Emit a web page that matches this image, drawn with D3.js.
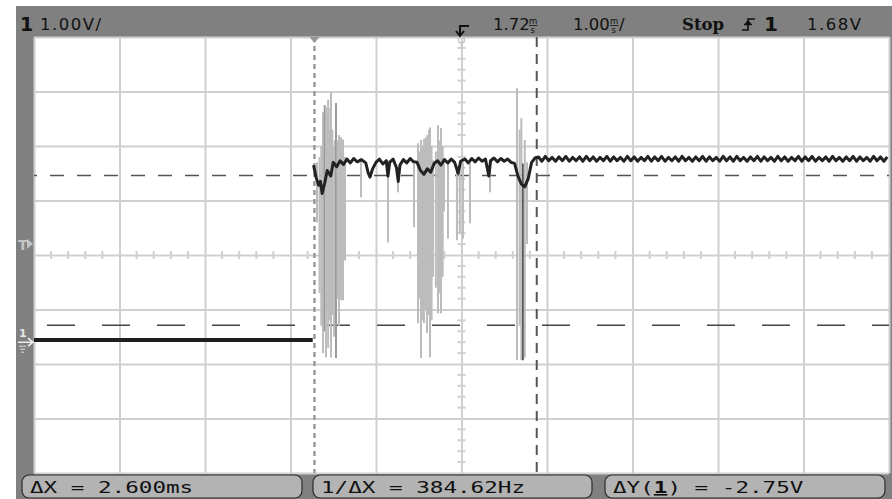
<!DOCTYPE html>
<html>
<head>
<meta charset="utf-8">
<script src="https://cdn.jsdelivr.net/npm/d3@7"></script>
<style>
  body { margin: 0; background: #fff; }
  svg { display: block; }
</style>
</head>
<body>
<svg id="scope" width="892" height="499"></svg>
<script>
// ---- data ----
// time in ms, voltage in V (channel 1, 1.00 V/div, 1.00 ms/div, delay 1.72 ms)
const timeDomain = [-3.28, 6.72];
const voltDomain = [-2.4, 5.6];

// main (bright) trace, glitchy part
const traceT = [-3.28, -0.02, -0.01, 0.02, 0.05, 0.07, 0.09, 0.12, 0.15, 0.19, 0.22, 0.26, 0.30, 0.34, 0.38, 0.42, 0.46, 0.50,
  0.55, 0.60, 0.63, 0.65, 0.68, 0.72, 0.76, 0.80, 0.84, 0.86, 0.88, 0.92, 0.96, 0.98, 1.00, 1.04, 1.08, 1.12,
  1.16, 1.20, 1.24, 1.28, 1.32, 1.36, 1.40, 1.44, 1.48, 1.52, 1.56, 1.60, 1.64, 1.68, 1.71, 1.76, 1.80, 1.84,
  1.88, 1.92, 1.96, 2.00, 2.04, 2.06, 2.10, 2.14, 2.18, 2.22, 2.26, 2.30, 2.34, 2.38, 2.42, 2.46, 2.50, 2.54, 2.58];
const traceV = [0.04, 0.04, 3.25, 3.02, 2.88, 2.95, 2.73, 2.92, 3.15, 3.05, 3.30, 3.22, 3.33, 3.26, 3.36, 3.29, 3.37, 3.31,
  3.35, 3.29, 3.10, 3.03, 3.18, 3.30, 3.36, 3.27, 3.33, 3.05, 3.30, 3.36, 3.20, 2.95, 3.25, 3.35, 3.29, 3.37,
  3.31, 3.30, 3.15, 3.08, 3.18, 3.12, 3.28, 3.33, 3.25, 3.35, 3.29, 3.36, 3.30, 3.10, 3.32, 3.36, 3.29, 3.37,
  3.31, 3.38, 3.32, 3.36, 3.05, 3.33, 3.38, 3.31, 3.37, 3.32, 3.36, 3.30, 3.28, 3.05, 2.90, 2.85, 3.00, 3.30, 3.38];

// settled part of the trace, sampled every 0.04 ms from 2.62 ms
const settledStart = 2.62;
const settledStep = 0.04;
const settledV = [
  3.40, 3.32, 3.41, 3.33, 3.39, 3.32, 3.40, 3.33, 3.41, 3.32,
  3.39, 3.33, 3.40, 3.32, 3.41, 3.33, 3.40, 3.32, 3.39, 3.33,
  3.41, 3.32, 3.40, 3.33, 3.39, 3.32, 3.41, 3.33, 3.40, 3.32,
  3.39, 3.33, 3.41, 3.32, 3.40, 3.33, 3.41, 3.32, 3.39, 3.33,
  3.40, 3.32, 3.41, 3.33, 3.39, 3.32, 3.40, 3.33, 3.41, 3.32,
  3.40, 3.33, 3.39, 3.32, 3.41, 3.33, 3.40, 3.32, 3.41, 3.33,
  3.39, 3.32, 3.40, 3.33, 3.41, 3.32, 3.40, 3.33, 3.39, 3.32,
  3.41, 3.33, 3.40, 3.32, 3.39, 3.33, 3.41, 3.32, 3.40, 3.33,
  3.41, 3.32, 3.39, 3.33, 3.40, 3.32, 3.41, 3.33, 3.39, 3.32,
  3.40, 3.33, 3.41, 3.32, 3.40, 3.33, 3.39, 3.32, 3.41, 3.33,
  3.40, 3.32, 3.40];

// persistence glitches: [time ms, low V, high V, shade]
const glitches = [
  [0.03, 2.2, 3.3, 'l'], [0.06, 0.9, 3.4, 'l'], [0.08, 0.3, 3.6, 'l'], [0.10, -0.20, 4.22, 'l'],
  [0.11, 0.6, 4.1, 'l'], [0.12, 0.2, 4.35, 'm'], [0.135, -0.28, 4.31, 'l'], [0.145, 0.9, 4.2, 'l'],
  [0.15, 0.6, 4.0, 'l'], [0.16, -0.1, 4.45, 'l'], [0.175, 0.4, 3.9, 'l'], [0.185, 1.0, 4.3, 'l'],
  [0.194, -0.28, 4.59, 'l'], [0.21, 0.5, 3.9, 'l'], [0.23, 0.1, 3.6, 'l'], [0.24, 0.9, 3.7, 'l'],
  [0.252, -0.29, 4.39, 'm'], [0.27, 0.8, 3.7, 'l'], [0.287, 0.3, 3.8, 'l'], [0.30, 1.1, 3.6, 'l'],
  [0.311, 0.77, 3.76, 'l'], [0.334, 0.77, 3.72, 'l'], [0.357, 1.5, 3.4, 'l'],
  [0.545, 2.66, 3.34, 'l'], [0.86, 1.83, 3.34, 'l'], [0.977, 2.75, 3.16, 'l'], [1.164, 2.11, 3.28, 'l'],
  [1.211, 0.35, 3.65, 'l'], [1.23, 0.8, 3.5, 'l'], [1.246, -0.29, 3.71, 'l'], [1.265, 0.4, 3.6, 'l'],
  [1.281, 0.35, 3.73, 'l'], [1.30, 0.6, 3.75, 'l'], [1.316, 0.17, 3.80, 'l'], [1.34, 0.5, 3.9, 'l'],
  [1.352, -0.28, 3.94, 'l'], [1.37, 0.4, 3.6, 'l'], [1.387, 1.2, 3.34, 'l'], [1.42, 1.0, 3.5, 'l'],
  [1.445, 0.53, 3.98, 'l'], [1.46, 0.9, 3.7, 'l'], [1.48, 0.53, 3.93, 'l'], [1.50, 1.2, 3.6, 'l'],
  [1.515, 2.4, 3.3, 'l'], [1.562, 1.9, 3.3, 'l'], [1.667, 1.87, 3.2, 'l'], [1.70, 2.0, 3.25, 'l'],
  [1.737, 1.9, 3.3, 'l'], [1.819, 2.18, 3.28, 'l'], [2.053, 2.75, 3.34, 'l'],
  [2.369, -0.33, 4.66, 'l'], [2.40, 0.3, 3.9, 'l'], [2.42, -0.33, 4.11, 'l'], [2.439, -0.33, 3.28, 'd'],
  [2.46, -0.28, 3.71, 'l'], [2.486, 1.8, 3.3, 'l']
];

// cursors and trigger
const cursorX = [0, 2.6];       // ms
const cursorY = [3.06, 0.31];   // V
const triggerTime = 1.72;
const triggerLevel = 1.68;

// status texts
const topLabels = { ch: "1", scale: "1.00V/", delay: "1.72", timebase: "1.00", mode: "Stop", trigCh: "1", level: "1.68V" };
const softkeys = [
  [{ t: "\u0394X = 2.600ms" }],
  [{ t: "1/\u0394X = 384.62Hz" }],
  [{ t: "\u0394Y(" }, { t: "1", b: true }, { t: ") = -2.75V" }]
];

// ---- drawing ----
const svg = d3.select("#scope");
const pL = 34, pR = 889, pT = 37, pB = 473;

const x = d3.scaleLinear().domain(timeDomain).range([pL, pR]);
const y = d3.scaleLinear().domain(voltDomain).range([pB, pT]);
const divX = d3.scaleLinear().domain([0, 10]).range([pL, pR]);
const divY = d3.scaleLinear().domain([0, 8]).range([pT, pB]);

// frame
svg.append("rect").attr("x", 16).attr("y", 6).attr("width", 876).attr("height", 493).attr("fill", "#808080");
svg.append("rect").attr("x", pL).attr("y", pT).attr("width", pR - pL).attr("height", pB - pT).attr("fill", "#fff");

// grid
const grid = svg.append("g");
grid.append("g")
  .attr("transform", `translate(0,${pB})`)
  .call(d3.axisBottom(divX).tickValues(d3.range(0, 11)).tickFormat(""))
  .call(g => g.select(".domain").remove())
  .call(g => g.selectAll("line").attr("y2", -(pB - pT)));
grid.append("g")
  .attr("transform", `translate(${pL},0)`)
  .call(d3.axisLeft(divY).tickValues(d3.range(0, 9)).tickFormat(""))
  .call(g => g.select(".domain").remove())
  .call(g => g.selectAll("line").attr("x2", pR - pL));
grid.selectAll("line").attr("stroke", "#cfcfcf").attr("stroke-width", 2);

// minor ticks on centre lines
const minorX = d3.range(1, 50).filter(i => i % 5 !== 0).map(i => i / 5);
const minorY = d3.range(1, 40).filter(i => i % 5 !== 0).map(i => i / 5);
grid.append("g").selectAll("line").data(minorX).join("line")
  .attr("x1", d => divX(d)).attr("x2", d => divX(d))
  .attr("y1", divY(4) - 4).attr("y2", divY(4) + 4)
  .attr("stroke", "#cfcfcf").attr("stroke-width", 2);
grid.append("g").selectAll("line").data(minorY).join("line")
  .attr("y1", d => divY(d)).attr("y2", d => divY(d))
  .attr("x1", divX(5) - 4).attr("x2", divX(5) + 4)
  .attr("stroke", "#cfcfcf").attr("stroke-width", 2);

// horizontal cursors
svg.append("line").attr("x1", pL).attr("x2", pR).attr("y1", y(cursorY[0])).attr("y2", y(cursorY[0]))
  .attr("stroke", "#555").attr("stroke-width", 1.5).attr("stroke-dasharray", "14,13").attr("stroke-dashoffset", 11);
svg.append("line").attr("x1", pL).attr("x2", pR).attr("y1", y(cursorY[1])).attr("y2", y(cursorY[1]))
  .attr("stroke", "#444").attr("stroke-width", 1.5).attr("stroke-dasharray", "28,27").attr("stroke-dashoffset", 42);

// glitches (persistence)
const shade = { l: "#bcbcbc", m: "#9a9a9a", d: "#333" };
svg.append("g").selectAll("line").data(glitches).join("line")
  .attr("x1", d => x(d[0])).attr("x2", d => x(d[0]))
  .attr("y1", d => y(d[1])).attr("y2", d => y(d[2]))
  .attr("stroke", d => shade[d[3]])
  .attr("stroke-width", d => d[3] === 'd' ? 1.5 : 2);

// vertical cursors
svg.append("line").attr("x1", x(cursorX[0])).attr("x2", x(cursorX[0])).attr("y1", pT).attr("y2", pB)
  .attr("stroke", "#9a9a9a").attr("stroke-width", 2.5).attr("stroke-dasharray", "5,4");
svg.append("line").attr("x1", x(cursorX[1])).attr("x2", x(cursorX[1])).attr("y1", pT).attr("y2", pB)
  .attr("stroke", "#555").attr("stroke-width", 2).attr("stroke-dasharray", "10,7");

// trace
const line = d3.line().x(d => x(d[0])).y(d => y(d[1]));
const lowPart = traceT.slice(0, 2).map((t, i) => [t, traceV[i]]);
const glitchPart = traceT.slice(2).map((t, i) => [t, traceV[i + 2]]);
const settledPart = settledV.map((v, i) => [settledStart + i * settledStep, v]);
svg.append("path").datum(lowPart).attr("d", line)
  .attr("fill", "none").attr("stroke", "#1e1e1e").attr("stroke-width", 4);
svg.append("path").datum(glitchPart.concat(settledPart)).attr("d", line)
  .attr("fill", "none").attr("stroke", "#222").attr("stroke-width", 3).attr("stroke-linejoin", "round");

// markers under the top bar
const cx1 = x(cursorX[0]);
svg.append("path").attr("d", `M${cx1 - 5},${pT} L${cx1 + 5},${pT} L${cx1},${pT + 6} Z`).attr("fill", "#999");
const tx = x(triggerTime);
svg.append("circle").attr("cx", tx).attr("cy", pT + 3).attr("r", 3).attr("fill", "none").attr("stroke", "#c4c4c4").attr("stroke-width", 1.3);
svg.append("path").attr("d", `M${tx},${pT + 6} L${tx},${pT + 11}`)
  .attr("fill", "none").attr("stroke", "#c4c4c4").attr("stroke-width", 1.5);

// left side markers
const ty = y(triggerLevel);
svg.append("text").attr("x", 18).attr("y", ty - 1).attr("fill", "#c4c4c4")
  .attr("font-family", "DejaVu Sans").attr("font-size", 14).attr("font-weight", "bold").text("T");
svg.append("path").attr("d", `M27,${ty - 12} L33,${ty - 7} L27,${ty - 2} Z`).attr("fill", "#c4c4c4");
const gy = y(0);
svg.append("text").attr("x", 19).attr("y", gy - 5).attr("fill", "#e6e6e6")
  .attr("font-family", "DejaVu Sans").attr("font-size", 11).attr("font-weight", "bold").text("1");
svg.append("path").attr("d", `M18,${gy} L33,${gy} M28,${gy - 4} L33,${gy} L28,${gy + 4}`)
  .attr("fill", "none").attr("stroke", "#eee").attr("stroke-width", 1.5);
svg.append("path").attr("d", `M19,${gy + 4} L26,${gy + 4} M20,${gy + 7} L25,${gy + 7} M21,${gy + 10} L24,${gy + 10}`)
  .attr("fill", "none").attr("stroke", "#ddd").attr("stroke-width", 1);

// top status line
const topBar = svg.append("g").attr("font-family", "DejaVu Sans").attr("fill", "#111");
topBar.append("text").attr("x", 20).attr("y", 31).attr("font-size", 19).attr("font-weight", "bold").text(topLabels.ch);
topBar.append("text").attr("x", 40).attr("y", 30).attr("font-size", 16.5).attr("letter-spacing", 1.5).text(topLabels.scale);

function stackedMs(g, xp) {
  g.append("text").attr("x", xp).attr("y", 24).attr("font-size", 8.5).text("m");
  g.append("text").attr("x", xp + 1.5).attr("y", 32.5).attr("font-size", 8.5).text("s");
  g.append("line").attr("x1", xp).attr("x2", xp + 8.5).attr("y1", 25.5).attr("y2", 25.5).attr("stroke", "#111").attr("stroke-width", 0.8);
}
// trigger delay arrow
topBar.append("path").attr("d", "M460,36 L460,26 L469,26 M456,31 L460,36 L464,31")
  .attr("fill", "none").attr("stroke", "#111").attr("stroke-width", 2);
topBar.append("text").attr("x", 493).attr("y", 30).attr("font-size", 16.5).text(topLabels.delay);
stackedMs(topBar, 529);
topBar.append("text").attr("x", 573).attr("y", 30).attr("font-size", 16.5).text(topLabels.timebase);
stackedMs(topBar, 610);
topBar.append("text").attr("x", 619).attr("y", 30).attr("font-size", 16.5).text("/");
topBar.append("text").attr("x", 682).attr("y", 30).attr("font-size", 16.5).attr("font-weight", "bold")
  .attr("font-family", "DejaVu Serif").text(topLabels.mode);
// trigger edge symbol
topBar.append("path").attr("d", "M742,30 L748,30 L748,19 L755,19 M745,25 L748,21 L751,25 M744,24.5 L752,24.5")
  .attr("fill", "none").attr("stroke", "#111").attr("stroke-width", 1.7);
topBar.append("text").attr("x", 764).attr("y", 31).attr("font-size", 20).attr("font-weight", "bold").text(topLabels.trigCh);
topBar.append("text").attr("x", 807).attr("y", 30).attr("font-size", 16.5).attr("letter-spacing", 1.5).text(topLabels.level);

// softkey boxes
const keyX = [22, 313, 605];
const keyW = [280, 279, 280];
const charW = 13.6;
const keys = svg.append("g");
keys.selectAll("rect").data(softkeys).join("rect")
  .attr("x", (d, i) => keyX[i]).attr("y", 475).attr("width", (d, i) => keyW[i]).attr("height", 23)
  .attr("rx", 7).attr("fill", "#b3b3b3").attr("stroke", "#2a2a2a").attr("stroke-width", 1.2);
keys.selectAll("text").data(softkeys).join("text")
  .attr("x", (d, i) => keyX[i] + 8).attr("y", 493)
  .attr("font-family", "DejaVu Sans Mono").attr("font-size", 16).attr("fill", "#111")
  .attr("textLength", d => d3.sum(d, p => p.t.length) * charW)
  .attr("lengthAdjust", "spacingAndGlyphs")
  .selectAll("tspan").data(d => d).join("tspan")
  .attr("font-weight", p => p.b ? "bold" : null)
  .attr("text-decoration", p => p.b ? "underline" : null)
  .text(p => p.t);
</script>
</body>
</html>
